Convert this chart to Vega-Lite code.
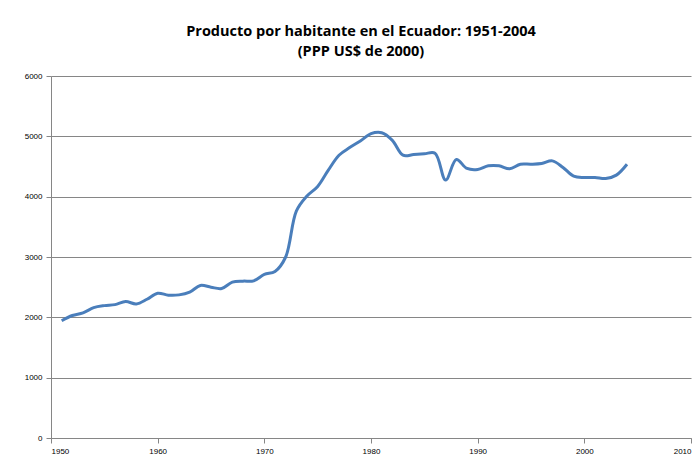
{
  "$schema": "https://vega.github.io/schema/vega-lite/v6.json",
  "autosize": {"type": "none"},
  "width": 640,
  "height": 362,
  "padding": {"left": 51, "top": 76, "right": 8, "bottom": 28},
  "background": "white",
  "title": {
    "text": ["Producto por  habitante en el Ecuador: 1951-2004", "(PPP US$ de 2000)"],
    "font": "Open Sans",
    "fontSize": 14.5,
    "fontWeight": "bold",
    "color": "black",
    "anchor": "middle",
    "frame": "group",
    "dx": -10,
    "offset": 13,
    "lineHeight": 20
  },
  "data": {
    "values": [
      {"year": 1951, "pib": 1944},
      {"year": 1952, "pib": 2030},
      {"year": 1953, "pib": 2075},
      {"year": 1954, "pib": 2160},
      {"year": 1955, "pib": 2194},
      {"year": 1956, "pib": 2211},
      {"year": 1957, "pib": 2261},
      {"year": 1958, "pib": 2222},
      {"year": 1959, "pib": 2300},
      {"year": 1960, "pib": 2400},
      {"year": 1961, "pib": 2367},
      {"year": 1962, "pib": 2372},
      {"year": 1963, "pib": 2417},
      {"year": 1964, "pib": 2528},
      {"year": 1965, "pib": 2500},
      {"year": 1966, "pib": 2478},
      {"year": 1967, "pib": 2583},
      {"year": 1968, "pib": 2600},
      {"year": 1969, "pib": 2605},
      {"year": 1970, "pib": 2711},
      {"year": 1971, "pib": 2760},
      {"year": 1972, "pib": 3000},
      {"year": 1973, "pib": 3760},
      {"year": 1974, "pib": 4011},
      {"year": 1975, "pib": 4170},
      {"year": 1976, "pib": 4440},
      {"year": 1977, "pib": 4687},
      {"year": 1978, "pib": 4813},
      {"year": 1979, "pib": 4923},
      {"year": 1980, "pib": 5044},
      {"year": 1981, "pib": 5060},
      {"year": 1982, "pib": 4934},
      {"year": 1983, "pib": 4687},
      {"year": 1984, "pib": 4698},
      {"year": 1985, "pib": 4710},
      {"year": 1986, "pib": 4720},
      {"year": 1987, "pib": 4275},
      {"year": 1988, "pib": 4615},
      {"year": 1989, "pib": 4467},
      {"year": 1990, "pib": 4450},
      {"year": 1991, "pib": 4511},
      {"year": 1992, "pib": 4511},
      {"year": 1993, "pib": 4461},
      {"year": 1994, "pib": 4538},
      {"year": 1995, "pib": 4538},
      {"year": 1996, "pib": 4549},
      {"year": 1997, "pib": 4593},
      {"year": 1998, "pib": 4484},
      {"year": 1999, "pib": 4340},
      {"year": 2000, "pib": 4318},
      {"year": 2001, "pib": 4318},
      {"year": 2002, "pib": 4300},
      {"year": 2003, "pib": 4357},
      {"year": 2004, "pib": 4538}
    ]
  },
  "mark": {"type": "line", "interpolate": "catmull-rom", "color": "#4A7EBB", "strokeWidth": 3},
  "encoding": {
    "x": {
      "field": "year", "type": "quantitative",
      "scale": {"domain": [1950, 2010], "nice": false, "zero": false},
      "axis": {"title": null, "values": [1950, 1960, 1970, 1980, 1990, 2000, 2010], "format": "d", "grid": false,
        "domainColor": "#868686", "tickColor": "#868686", "tickSize": 5, "labelFont": "Liberation Sans", "labelFontSize": 8, "labelColor": "black", "labelPadding": 4}
    },
    "y": {
      "field": "pib", "type": "quantitative",
      "scale": {"domain": [0, 6000], "nice": false},
      "axis": {"title": null, "values": [0, 1000, 2000, 3000, 4000, 5000, 6000], "format": "d", "grid": true, "gridColor": "#868686", "gridWidth": 1.2,
        "domainColor": "#868686", "tickColor": "#868686", "tickSize": 5, "labelFont": "Liberation Sans", "labelFontSize": 8, "labelColor": "black", "labelPadding": 4}
    }
  },
  "config": {"view": {"stroke": null}}
}
